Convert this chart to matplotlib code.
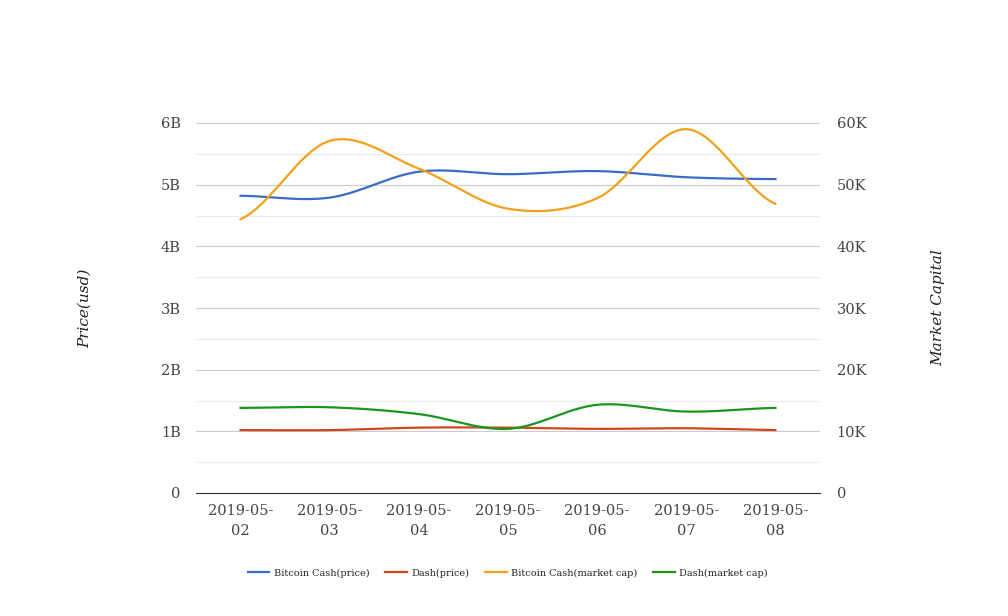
import numpy as np
import matplotlib
matplotlib.use("Agg")
import matplotlib.pyplot as plt
from matplotlib.ticker import FixedLocator

dates = ["2019-05-\n02", "2019-05-\n03", "2019-05-\n04", "2019-05-\n05",
         "2019-05-\n06", "2019-05-\n07", "2019-05-\n08"]
bch_price = [4.82e9, 4.79e9, 5.21e9, 5.17e9, 5.22e9, 5.12e9, 5.09e9]
dash_price = [1.02e9, 1.02e9, 1.06e9, 1.06e9, 1.04e9, 1.05e9, 1.02e9]
bch_mcap = [44400, 57100, 52600, 46100, 47800, 59000, 46900]
dash_mcap = [13800, 13900, 12800, 10400, 14300, 13200, 13800]

colors = {"bch_p": "#3a6cc6", "dash_p": "#d0471f", "bch_m": "#f2a11a", "dash_m": "#1a961f"}

def smooth(y, n=40, tension=0.5):
    y = np.asarray(y, dtype=float)
    x = np.arange(len(y), dtype=float)
    xs, ys = [], []
    for i in range(len(y) - 1):
        p0 = y[i - 1] if i > 0 else y[i]
        p1, p2 = y[i], y[i + 1]
        p3 = y[i + 2] if i + 2 < len(y) else y[i + 1]
        m1 = tension * (p2 - p0)
        m2 = tension * (p3 - p1)
        t = np.linspace(0, 1, n, endpoint=(i == len(y) - 2))
        h00 = 2 * t**3 - 3 * t**2 + 1
        h10 = t**3 - 2 * t**2 + t
        h01 = -2 * t**3 + 3 * t**2
        h11 = t**3 - t**2
        ys.append(h00 * p1 + h10 * m1 + h01 * p2 + h11 * m2)
        xs.append(x[i] + t)
    return np.concatenate(xs), np.concatenate(ys)

plt.rcParams["font.family"] = ["DejaVu Serif"]
fig = plt.figure(figsize=(10.08, 6.16), dpi=100)
ax = fig.add_axes([196 / 1008, 1 - 493 / 616, 624 / 1008, 370 / 616])
ax2 = ax.twinx()

ax.set_xlim(-0.5, 6.5)
ax.set_ylim(0, 6e9)
ax2.set_ylim(0, 60000)

lines = []
for data, key, label, a in [(bch_price, "bch_p", "Bitcoin Cash(price)", ax),
                            (dash_price, "dash_p", "Dash(price)", ax),
                            (bch_mcap, "bch_m", "Bitcoin Cash(market cap)", ax2),
                            (dash_mcap, "dash_m", "Dash(market cap)", ax2)]:
    xs, ys = smooth(data)
    ln, = a.plot(xs, ys, color=colors[key], lw=1.6, label=label, zorder=3)
    lines.append(ln)

ax.yaxis.set_major_locator(FixedLocator(np.arange(0, 6.01e9, 1e9)))
ax.yaxis.set_minor_locator(FixedLocator(np.arange(0.5e9, 6e9, 1e9)))
ax.set_yticklabels(["0", "1B", "2B", "3B", "4B", "5B", "6B"])
ax2.yaxis.set_major_locator(FixedLocator(np.arange(0, 60001, 10000)))
ax2.set_yticklabels(["0", "10K", "20K", "30K", "40K", "50K", "60K"])

ax.grid(True, which="major", axis="y", color="#cccccc", lw=0.8)
ax.grid(True, which="minor", axis="y", color="#ebebeb", lw=0.8)
ax.set_axisbelow(True)

ax.set_xticks(range(len(dates)))
ax.set_xticklabels(dates, fontsize=10.5, color="#222222", linespacing=1.5)

for a in (ax, ax2):
    for s in a.spines.values():
        s.set_visible(False)
    a.tick_params(length=0, labelsize=10.5, labelcolor="#444444", which="both")
ax.spines["bottom"].set_visible(True)
ax.spines["bottom"].set_color("#333333")
ax.tick_params(axis="x", pad=8)
ax.tick_params(axis="y", pad=11)
ax2.tick_params(axis="y", pad=12)

fig.text(85 / 1008, 1 - 308 / 616, "Price(usd)", rotation=90, style="italic",
         fontsize=11, color="#222222", ha="center", va="center")
fig.text(938 / 1008, 1 - 308 / 616, "Market Capital", rotation=90, style="italic",
         fontsize=11, color="#222222", ha="center", va="center")

fig.legend(handles=lines, loc="center", bbox_to_anchor=(508 / 1008, 1 - 573 / 616),
           ncol=4, frameon=False, fontsize=7, handlelength=2.2, columnspacing=1.6,
           handletextpad=0.5, labelcolor="#222222")

fig.savefig("out.png", dpi=100, facecolor="white")
